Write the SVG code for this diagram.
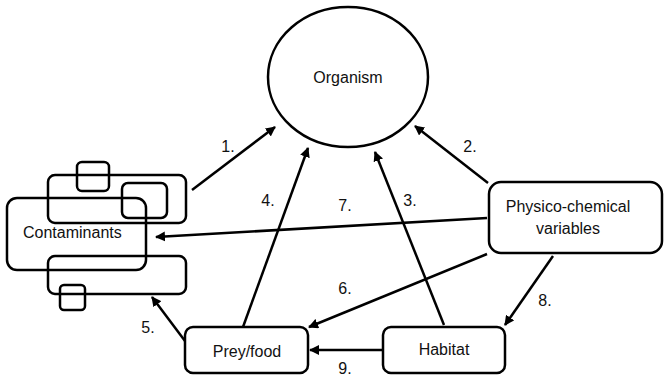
<svg xmlns="http://www.w3.org/2000/svg" width="664" height="378" viewBox="0 0 664 378">
<defs>
<style>
.s{fill:none;stroke:#000;stroke-width:2.5}
.b{fill:#fff;stroke:#000;stroke-width:2.5}
.c{stroke:#000;stroke-width:2.5;fill:none;marker-end:url(#ah)}
text{font-family:"Liberation Sans",Arial,sans-serif;font-size:16px;fill:#111}
.m{text-anchor:middle}
</style>
<marker id="ah" viewBox="0 0 10 10" refX="9" refY="5" markerWidth="4" markerHeight="4" orient="auto" markerUnits="strokeWidth">
<path d="M0,0 L10,5 L0,10 z" fill="#000"/>
</marker>
</defs>
<rect width="664" height="378" fill="#fff"/>
<g id="connectors">
<line class="c" x1="192" y1="190" x2="275" y2="127"/>
<line class="c" x1="488" y1="183" x2="415" y2="126"/>
<line class="c" x1="444" y1="325" x2="375" y2="152"/>
<line class="c" x1="243" y1="327" x2="308" y2="148"/>
<line class="c" x1="487" y1="218" x2="156" y2="237"/>
<line class="c" x1="487" y1="254" x2="309" y2="327"/>
<line class="c" x1="185" y1="341" x2="152" y2="297"/>
<line class="c" x1="553" y1="256" x2="505" y2="325"/>
<line class="c" x1="383" y1="350" x2="310" y2="350"/>
</g>
<g id="labels">
<text x="228" y="152" class="m">1.</text>
<text x="470" y="152" class="m">2.</text>
<text x="410" y="206" class="m">3.</text>
<text x="268" y="206" class="m">4.</text>
<text x="345" y="211" class="m">7.</text>
<text x="345" y="294" class="m">6.</text>
<text x="148" y="333" class="m">5.</text>
<text x="545" y="306" class="m">8.</text>
<text x="345" y="374" class="m">9.</text>
</g>
<g id="organism">
<ellipse class="s" cx="348" cy="77" rx="80" ry="70"/>
<text x="348" y="83" class="m">Organism</text>
</g>
<g id="contaminants">
<rect class="s" x="77" y="162" width="32" height="29" rx="5"/>
<rect class="s" x="48" y="175" width="138" height="48" rx="7"/>
<rect class="s" x="122" y="183" width="45" height="35" rx="6"/>
<rect class="s" x="7" y="198" width="139" height="72" rx="10"/>
<rect class="s" x="48" y="256" width="138" height="38" rx="7"/>
<rect class="s" x="60" y="285" width="25" height="25" rx="4"/>
<text x="23" y="238">Contaminants</text>
</g>
<g id="physico">
<rect class="b" x="489" y="182" width="173" height="71" rx="12"/>
<text x="568" y="212" class="m">Physico-chemical</text>
<text x="568" y="234" class="m">variables</text>
</g>
<g id="prey">
<rect class="b" x="185" y="327" width="123" height="46" rx="8"/>
<text x="247" y="357" class="m">Prey/food</text>
</g>
<g id="habitat">
<rect class="b" x="383" y="327" width="122" height="46" rx="8"/>
<text x="444" y="355" class="m">Habitat</text>
</g>
</svg>
